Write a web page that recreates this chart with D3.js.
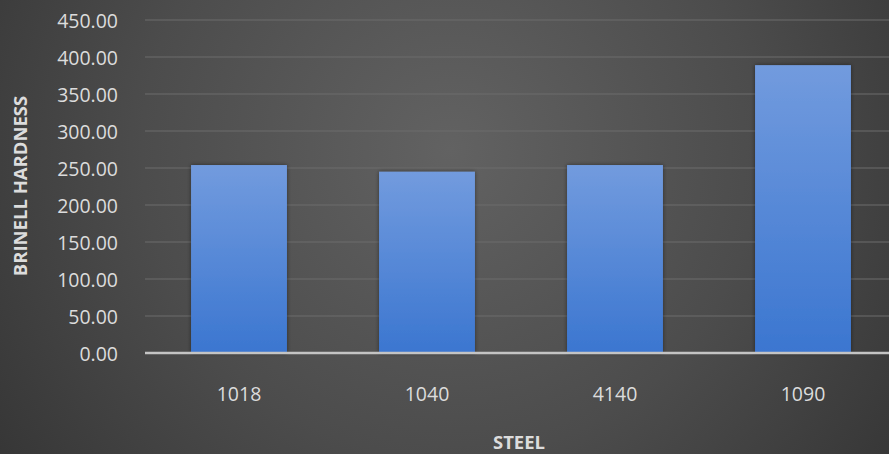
<!DOCTYPE html>
<html>
<head>
<meta charset="utf-8">
<script src="https://cdn.jsdelivr.net/npm/d3@7"></script>
<style>
  html, body { margin: 0; padding: 0; background: #454545; }
  svg { display: block; }
</style>
</head>
<body>
<svg id="chart" width="889" height="454"></svg>
<script>
// Brinell hardness by steel grade
const categories = ["1018", "1040", "4140", "1090"];
const hardness = [254, 245, 254, 389];
const yTicks = [0, 50, 100, 150, 200, 250, 300, 350, 400, 450];
const xTitle = "STEEL";
const yTitle = "BRINELL HARDNESS";

const W = 889, H = 454;
const margin = { left: 145, right: -8, top: 20, bottom: 101 };

const svg = d3.select("#chart");
const defs = svg.append("defs");

// Dark backdrop, lighter toward the upper middle
const bg = defs.append("radialGradient")
  .attr("id", "bg").attr("gradientUnits", "userSpaceOnUse")
  .attr("cx", 450).attr("cy", 150).attr("r", 560);
bg.append("stop").attr("offset", "0%").attr("stop-color", "#626262");
bg.append("stop").attr("offset", "55%").attr("stop-color", "#4c4c4c");
bg.append("stop").attr("offset", "100%").attr("stop-color", "#353535");

// Bar fill: lighter blue on top
const barGrad = defs.append("linearGradient")
  .attr("id", "barFill").attr("x1", 0).attr("y1", 0).attr("x2", 0).attr("y2", 1);
barGrad.append("stop").attr("offset", "0%").attr("stop-color", "#729bde");
barGrad.append("stop").attr("offset", "100%").attr("stop-color", "#3b76d0");

const shadow = defs.append("filter").attr("id", "shadow")
  .attr("x", "-10%").attr("y", "-10%").attr("width", "120%").attr("height", "120%");
shadow.append("feDropShadow").attr("dx", 0).attr("dy", 0)
  .attr("stdDeviation", 2).attr("flood-color", "#000").attr("flood-opacity", 0.45);

svg.append("rect").attr("width", W).attr("height", H).attr("fill", "url(#bg)");

const x = d3.scaleBand()
  .domain(categories)
  .range([margin.left, W - margin.right])
  .paddingInner(0.49).paddingOuter(0.245);

const y = d3.scaleLinear()
  .domain([0, 450])
  .range([H - margin.bottom, margin.top]);

// Horizontal gridlines
svg.append("g")
  .selectAll("line")
  .data(yTicks.filter(t => t > 0))
  .join("line")
  .attr("x1", margin.left).attr("x2", W)
  .attr("y1", d => y(d)).attr("y2", d => y(d))
  .attr("stroke", "#6c6c6c").attr("stroke-width", 1);

// Bars
svg.append("g")
  .selectAll("rect")
  .data(categories.map((c, i) => ({ c, v: hardness[i] })))
  .join("rect")
  .attr("x", d => x(d.c))
  .attr("y", d => y(d.v))
  .attr("width", x.bandwidth())
  .attr("height", d => y(0) - y(d.v))
  .attr("fill", "url(#barFill)")
  .attr("filter", "url(#shadow)");

// Baseline
svg.append("line")
  .attr("x1", margin.left).attr("x2", W)
  .attr("y1", y(0)).attr("y2", y(0))
  .attr("stroke", "#c4c4c4").attr("stroke-width", 2.5);

const font = "'Open Sans', sans-serif";

// Y axis labels
const yAxis = d3.axisLeft(y).tickValues(yTicks).tickFormat(d3.format(".2f")).tickSize(0).tickPadding(0);
const gy = svg.append("g").attr("transform", "translate(118,0)").call(yAxis);
gy.select(".domain").remove();
gy.selectAll("text")
  .attr("fill", "#dcdcdc").attr("font-family", font).attr("font-size", 19.5)
  .attr("dy", "0.36em");

// X axis labels
const xAxis = d3.axisBottom(x).tickSize(0).tickPadding(0);
const gx = svg.append("g").attr("transform", `translate(0,${y(0)})`).call(xAxis);
gx.select(".domain").remove();
gx.selectAll("text")
  .attr("fill", "#dcdcdc").attr("font-family", font).attr("font-size", 19.5)
  .attr("dy", 0).attr("y", 48);

// Axis titles
svg.append("text")
  .attr("x", 519).attr("y", 449)
  .attr("text-anchor", "middle")
  .attr("fill", "#dcdcdc").attr("font-family", font).attr("font-weight", "bold").attr("font-size", 18.5)
  .text(xTitle);

svg.append("text")
  .attr("transform", "translate(27,186) rotate(-90)")
  .attr("text-anchor", "middle")
  .attr("fill", "#dcdcdc").attr("font-family", font).attr("font-weight", "bold").attr("font-size", 18.5)
  .text(yTitle);
</script>
</body>
</html>
